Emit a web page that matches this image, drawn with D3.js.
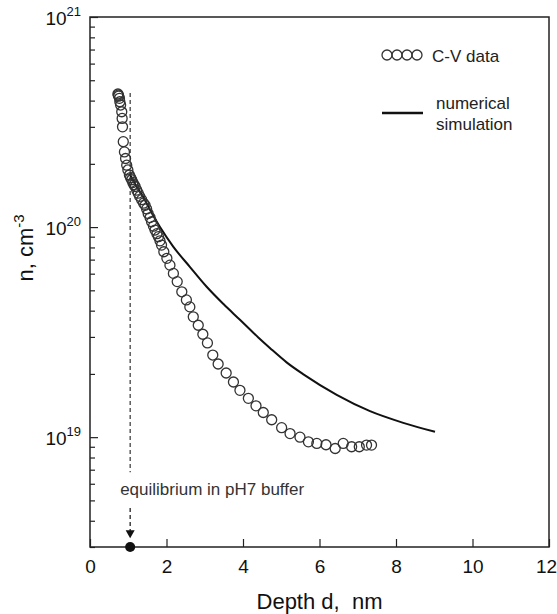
<!DOCTYPE html>
<html>
<head>
<meta charset="utf-8">
<script src="https://cdn.jsdelivr.net/npm/d3@7"></script>
<style>
  body { margin: 0; background: #fff; }
  svg { display: block; font-family: "Liberation Sans", Arial, sans-serif; }
</style>
</head>
<body>
<div class="graphic"></div>
<script>
// C-V data (depth in nm, concentration in cm-3)
var cvDepth = [0.73, 0.74, 0.75, 0.77, 0.78, 0.80, 0.83, 0.84, 0.85, 0.87, 0.90, 0.93, 0.96, 0.99,
    1.03, 1.06, 1.09, 1.12, 1.15, 1.18, 1.22, 1.26, 1.30, 1.35, 1.40, 1.44, 1.48, 1.52, 1.57, 1.61,
    1.66, 1.70, 1.75, 1.79, 1.83, 1.87, 1.93, 2.01, 2.09, 2.18, 2.28, 2.40, 2.52, 2.61, 2.70, 2.83,
    2.95, 3.07, 3.21, 3.35, 3.56, 3.75, 3.92, 4.14, 4.34, 4.53, 4.75, 5.01, 5.23, 5.49, 5.71, 5.93,
    6.17, 6.41, 6.62, 6.84, 7.04, 7.23, 7.36];
var cvConc = [4.3e20, 4.25e20, 4.2e20, 4.1e20, 3.95e20, 3.81e20, 3.54e20, 3.29e20, 3.0e20, 2.55e20,
    2.28e20, 2.12e20, 1.97e20, 1.87e20, 1.77e20, 1.72e20, 1.68e20, 1.63e20, 1.59e20, 1.56e20, 1.5e20,
    1.45e20, 1.4e20, 1.35e20, 1.3e20, 1.27e20, 1.22e20, 1.16e20, 1.11e20, 1.06e20, 1.01e20, 9.68e19,
    9.3e19, 9.0e19, 8.6e19, 8.21e19, 7.63e19, 7.1e19, 6.59e19, 6.02e19, 5.5e19, 4.92e19, 4.5e19,
    4.17e19, 3.74e19, 3.41e19, 3.09e19, 2.81e19, 2.46e19, 2.23e19, 2.02e19, 1.83e19, 1.67e19,
    1.53e19, 1.41e19, 1.31e19, 1.21e19, 1.11e19, 1.04e19, 1.0e19, 9.5e18, 9.34e18, 9.2e18, 8.83e18,
    9.34e18, 9.0e18, 9.0e18, 9.17e18, 9.17e18];

// numerical simulation
var simDepth = [1.03, 1.20, 1.39, 1.60, 1.83, 2.18, 2.61, 3.05, 3.49, 3.92, 4.40, 4.71, 5.14, 5.58,
    6.45, 7.32, 8.19, 9.02];
var simConc = [1.8e20, 1.58e20, 1.39e20, 1.18e20, 1.0e20, 8.05e19, 6.47e19, 5.2e19, 4.3e19, 3.62e19,
    2.98e19, 2.65e19, 2.27e19, 1.99e19, 1.59e19, 1.33e19, 1.17e19, 1.06e19];

// equilibrium marker
var eqDepth = 1.05;
var eqLineTop = 4.35e20, eqLineBottom = 6.8e18;
var eqArrowTop = 4.6e18, eqArrowTip = 3.3e18;

var xTicks = [0, 2, 4, 6, 8, 10, 12];
var yMajor = [1e19, 1e20, 1e21];
var yExp = ["19", "20", "21"];

var width = 557, height = 614;
var margin = { top: 17, right: 8, bottom: 67, left: 90 };
var ink = "#222";

var svg = d3.select(".graphic").append("svg")
    .attr("width", width)
    .attr("height", height);

var x = d3.scaleLinear().domain([0, 12]).range([margin.left, width - margin.right]);
var y = d3.scaleLog().domain([3e18, 1e21]).range([height - margin.bottom, margin.top]);

// minor log ticks
var minor = y.ticks().filter(function (d) { return yMajor.indexOf(d) < 0; });

svg.append("g")
    .attr("transform", "translate(" + margin.left + ",0)")
    .call(d3.axisLeft(y).tickValues(minor).tickSize(-5).tickFormat(""))
    .call(function (g) { g.select(".domain").remove(); })
    .selectAll("line").attr("stroke", ink).attr("stroke-width", 1.2);

var yAx = svg.append("g")
    .attr("transform", "translate(" + margin.left + ",0)")
    .call(d3.axisLeft(y).tickValues(yMajor).tickSize(-8).tickFormat(""));
yAx.select(".domain").remove();
yAx.selectAll("line").attr("stroke", ink).attr("stroke-width", 1.2);

// y tick labels with superscripts
var yl = svg.append("g").selectAll("text")
    .data(yMajor)
    .join("text")
    .attr("x", margin.left - 9)
    .attr("y", function (d) { return y(d) + 8; })
    .attr("text-anchor", "end")
    .attr("fill", "#111")
    .style("font-size", "19px");
yl.append("tspan").text("10");
yl.append("tspan")
    .attr("dy", -9)
    .style("font-size", "13px")
    .text(function (d, i) { return yExp[i]; });

// x axis
var xAx = svg.append("g")
    .attr("transform", "translate(0," + (height - margin.bottom) + ")")
    .call(d3.axisBottom(x).tickValues(xTicks).tickSizeInner(-8).tickSizeOuter(0).tickPadding(13));
xAx.select(".domain").remove();
xAx.selectAll("line").attr("stroke", ink).attr("stroke-width", 1.2);
xAx.selectAll("text")
    .attr("fill", "#111")
    .attr("dx", function (d) { return d === 12 ? -3 : 0; })
    .style("font-size", "19px")
    .style("font-family", "'Liberation Sans', Arial, sans-serif");

// frame
svg.append("rect")
    .attr("x", x(0))
    .attr("y", y(1e21))
    .attr("width", x(12) - x(0))
    .attr("height", y(3e18) - y(1e21))
    .attr("fill", "none")
    .attr("stroke", ink)
    .attr("stroke-width", 1.5);

// axis titles
svg.append("text")
    .attr("x", (x(0) + x(12)) / 2)
    .attr("y", 609)
    .attr("text-anchor", "middle")
    .attr("fill", "#111")
    .style("font-size", "22px")
    .style("white-space", "pre")
    .text("Depth d,  nm");

var yt = svg.append("text")
    .attr("transform", "translate(33,248) rotate(-90)")
    .attr("text-anchor", "middle")
    .attr("fill", "#111")
    .style("font-size", "22px");
yt.append("tspan").text("n, cm");
yt.append("tspan").attr("dy", -9).style("font-size", "15px").text("-3");

// equilibrium dashed line
svg.append("line")
    .attr("x1", x(eqDepth)).attr("x2", x(eqDepth))
    .attr("y1", y(eqLineTop)).attr("y2", y(eqLineBottom))
    .attr("stroke", "#333")
    .attr("stroke-width", 1.2)
    .attr("stroke-dasharray", "4,3");

svg.append("text")
    .attr("x", x(eqDepth) - 10)
    .attr("y", 495)
    .attr("fill", "#333")
    .style("font-size", "17px")
    .text("equilibrium in pH7 buffer");

svg.append("line")
    .attr("x1", x(eqDepth)).attr("x2", x(eqDepth))
    .attr("y1", y(eqArrowTop)).attr("y2", y(eqArrowTip) - 7)
    .attr("stroke", "#222")
    .attr("stroke-width", 1.3)
    .attr("stroke-dasharray", "4,3");

svg.append("path")
    .attr("d", "M" + (x(eqDepth) - 4.5) + "," + (y(eqArrowTip) - 8) +
        "L" + (x(eqDepth) + 4.5) + "," + (y(eqArrowTip) - 8) +
        "L" + x(eqDepth) + "," + y(eqArrowTip) + "Z")
    .attr("fill", "#111");

svg.append("circle")
    .attr("cx", x(eqDepth))
    .attr("cy", y(3e18))
    .attr("r", 5)
    .attr("fill", "#111");

// simulation line
var line = d3.line()
    .x(function (d, i) { return x(simDepth[i]); })
    .y(function (d) { return y(d); })
    .curve(d3.curveMonotoneX);

svg.append("path")
    .datum(simConc)
    .attr("d", line)
    .attr("fill", "none")
    .attr("stroke", "#111")
    .attr("stroke-width", 2);

// C-V data circles
svg.append("g")
    .selectAll("circle")
    .data(cvConc)
    .join("circle")
    .attr("cx", function (d, i) { return x(cvDepth[i]); })
    .attr("cy", function (d) { return y(d); })
    .attr("r", 5)
    .attr("fill", "none")
    .attr("stroke", "#333")
    .attr("stroke-width", 1.3);

// legend
var legend = svg.append("g").attr("transform", "translate(382,55)");
legend.selectAll("circle")
    .data([0, 1, 2, 3])
    .join("circle")
    .attr("cx", function (d) { return 5 + d * 10; })
    .attr("cy", 0)
    .attr("r", 5)
    .attr("fill", "none")
    .attr("stroke", "#333")
    .attr("stroke-width", 1.3);
legend.append("text")
    .attr("x", 50).attr("y", 7)
    .attr("fill", "#222")
    .style("font-size", "17px")
    .text("C-V data");

legend.append("line")
    .attr("x1", 0).attr("x2", 41)
    .attr("y1", 58).attr("y2", 58)
    .attr("stroke", "#111")
    .attr("stroke-width", 2.5);
legend.append("text")
    .attr("x", 54).attr("y", 54)
    .attr("fill", "#222")
    .style("font-size", "17px")
    .text("numerical");
legend.append("text")
    .attr("x", 54).attr("y", 75)
    .attr("fill", "#222")
    .style("font-size", "17px")
    .text("simulation");
</script>
</body>
</html>
